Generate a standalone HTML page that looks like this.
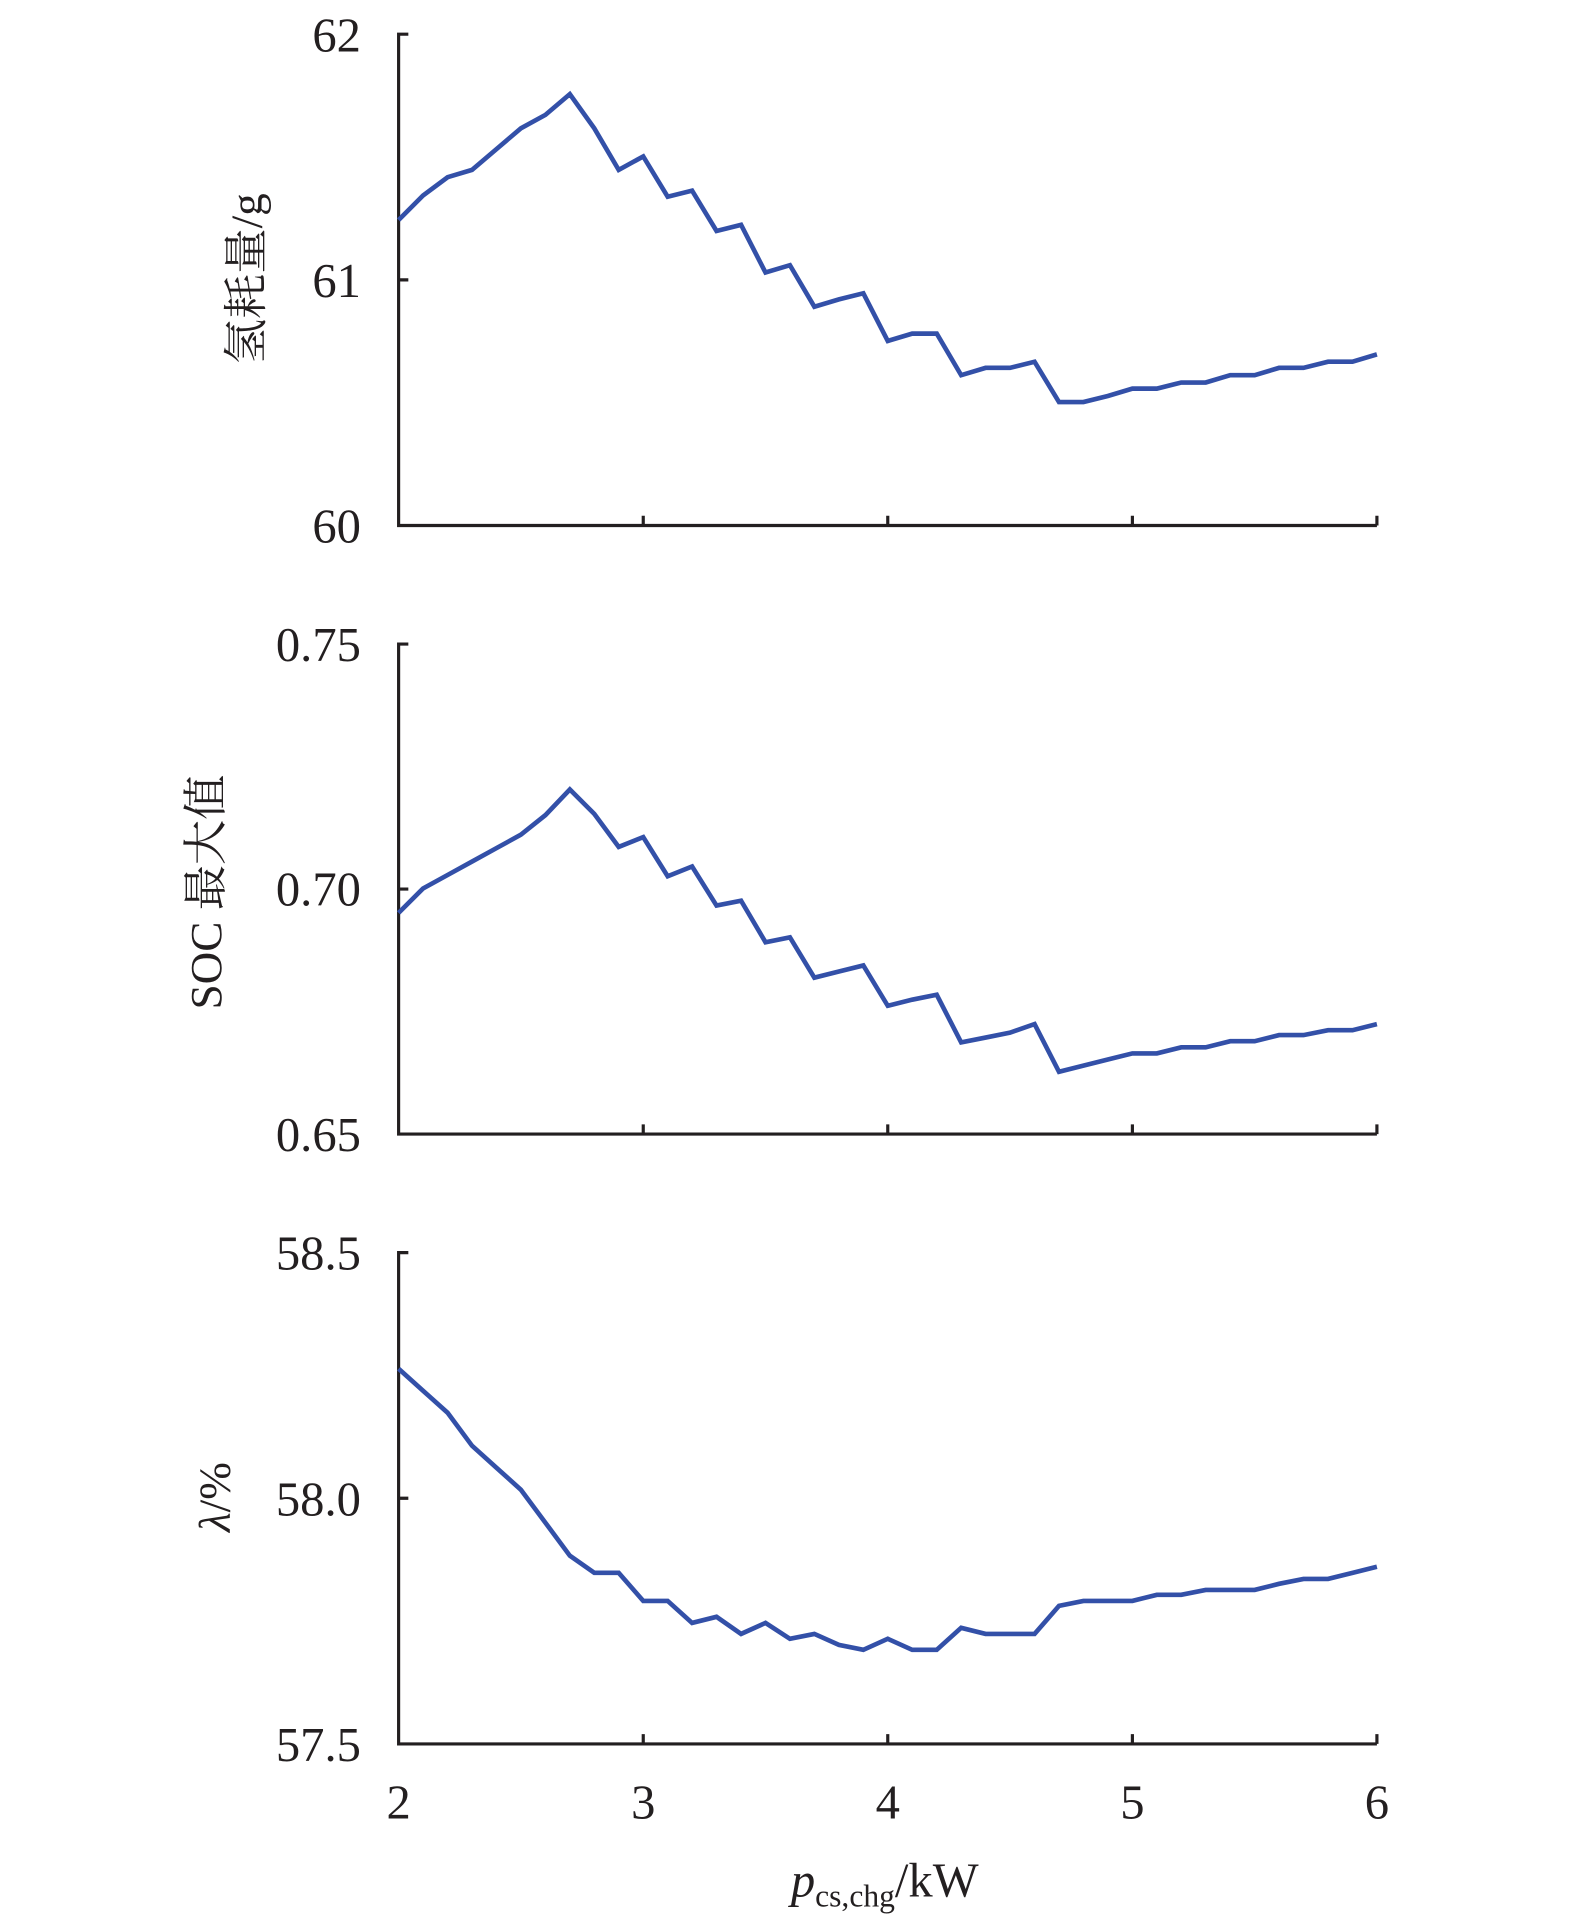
<!DOCTYPE html>
<html><head><meta charset="utf-8"><style>
html,body{margin:0;padding:0;background:#fff;}
svg{display:block;}
text{font-family:"Liberation Serif","Noto Serif CJK SC",serif;fill:#231f20;}
</style></head><body>
<svg width="1575" height="1915" viewBox="0 0 1296 1567" preserveAspectRatio="none" xmlns="http://www.w3.org/2000/svg">
<g stroke="#231f20" stroke-width="2.6" fill="none">
<path d="M336,28H328V430H1133"/>
<path d="M328,229H336M529.3,430V422M730.5,430V422M931.8,430V422M1133,430V422"/>
<path d="M336,527H328V928H1133"/>
<path d="M328,727.5H336M529.3,928V920M730.5,928V920M931.8,928V920M1133,928V920"/>
<path d="M336,1025H328V1427H1133"/>
<path d="M328,1226H336M529.3,1427V1419M730.5,1427V1419M931.8,1427V1419M1133,1427V1419"/>
</g>
<g stroke="#3350a8" stroke-width="3.8" fill="none" stroke-linejoin="miter">
<polyline points="328,180 348.1,160 368.3,145 388.4,139 408.5,122 428.6,105 448.8,94 468.9,77 489,105 509.1,139 529.3,128 549.4,161 569.5,156 589.6,189 609.8,184 629.9,223 650,217 670.1,251 690.3,245 710.4,240 730.5,279 750.6,273 770.8,273 790.9,307 811,301 831.1,301 851.3,296 871.4,329 891.5,329 911.6,324 931.8,318 951.9,318 972,313 992.1,313 1012.3,307 1032.4,307 1052.5,301 1072.6,301 1092.8,296 1112.9,296 1133,290"/>
<polyline points="328,747 348.1,727 368.3,716 388.4,705 408.5,694 428.6,683 448.8,667 468.9,646 489,666 509.1,693 529.3,685 549.4,717 569.5,709 589.6,741 609.8,737 629.9,771 650,767 670.1,800 690.3,795 710.4,790 730.5,823 750.6,818 770.8,814 790.9,853 811,849 831.1,845 851.3,838 871.4,877 891.5,872 911.6,867 931.8,862 951.9,862 972,857 992.1,857 1012.3,852 1032.4,852 1052.5,847 1072.6,847 1092.8,843 1112.9,843 1133,838"/>
<polyline points="328,1120 348.1,1138 368.3,1156 388.4,1183 408.5,1201 428.6,1219 448.8,1246 468.9,1273 489,1287 509.1,1287 529.3,1310 549.4,1310 569.5,1328 589.6,1323 609.8,1337 629.9,1328 650,1341 670.1,1337 690.3,1346 710.4,1350 730.5,1341 750.6,1350 770.8,1350 790.9,1332 811,1337 831.1,1337 851.3,1337 871.4,1314 891.5,1310 911.6,1310 931.8,1310 951.9,1305 972,1305 992.1,1301 1012.3,1301 1032.4,1301 1052.5,1296 1072.6,1292 1092.8,1292 1112.9,1287 1133,1282"/>
</g>
<g font-size="40" text-anchor="end">
<text x="297" y="42">62</text>
<text x="297" y="243">61</text>
<text x="297" y="444">60</text>
<text x="297" y="541">0.75</text>
<text x="297" y="741">0.70</text>
<text x="297" y="942">0.65</text>
<text x="297" y="1039">58.5</text>
<text x="297" y="1240">58.0</text>
<text x="297" y="1441">57.5</text>
</g>
<g font-size="40" text-anchor="middle">
<text x="328" y="1488">2</text>
<text x="529.3" y="1488">3</text>
<text x="730.5" y="1488">4</text>
<text x="931.8" y="1488">5</text>
<text x="1133" y="1488">6</text>
</g>
<text x="728" y="1552" font-size="40" text-anchor="middle"><tspan font-style="italic">p</tspan><tspan font-size="26" dy="8">cs,chg</tspan><tspan dy="-8">/kW</tspan></text>
<text transform="translate(215,228) rotate(-90)" font-size="37" text-anchor="middle">氢耗量/g</text>
<text transform="translate(182,730) rotate(-90)" font-size="37" text-anchor="middle">SOC 最大值</text>
<text transform="translate(189,1225) rotate(-90)" font-size="37" text-anchor="middle"><tspan font-style="italic">λ</tspan>/%</text>
</svg>
</body></html>
